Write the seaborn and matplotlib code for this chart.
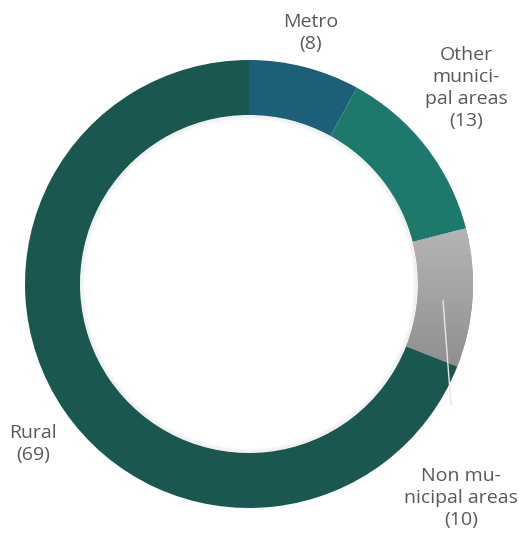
import numpy as np
import matplotlib
matplotlib.use("Agg")
import matplotlib.pyplot as plt
import seaborn as sns

categories = ["Metro", "Other municipal areas", "Non municipal areas", "Rural"]
values = [8, 13, 10, 69]
label_texts = ["Metro\n(8)", "Other\nmunici-\npal areas\n(13)", "Non mu-\nnicipal areas\n(10)", "Rural\n(69)"]
colors = ["#1b5f78", "#1e796d", "#a6a6a6", "#1a5750"]

sns.set_theme(style="white")
plt.rcParams["font.family"] = ["Open Sans", "DejaVu Sans"]

W, H = 519, 538
fig = plt.figure(figsize=(W / 100, H / 100), dpi=100)
ax = fig.add_axes([0, 0, 1, 1])

cx, cy = 249, H - 284
R = 224
ring = 55

# soft inner shadow
for i, a in enumerate(np.linspace(0.06, 0.0, 5)):
    c = plt.Circle((cx, cy), R - ring - 1 - i, fill=False, lw=1.2,
                   color=(0.3, 0.3, 0.3, a), zorder=1)
    ax.add_patch(c)

wedges, _ = ax.pie(values, colors=colors, startangle=90, counterclock=False,
                   center=(cx, cy), radius=R, frame=True,
                   wedgeprops=dict(width=ring, linewidth=0, zorder=2))

# gradient on the grey slice
g = wedges[2]
grad = np.linspace(0, 1, 256).reshape(-1, 1)
cmap = matplotlib.colors.LinearSegmentedColormap.from_list("g", ["#b4b4b4", "#8c8c8c"])
im = ax.imshow(grad, cmap=cmap, extent=(cx + 140, cx + 230, H - 380, H - 230),
               origin="upper", aspect="auto", zorder=3)
im.set_clip_path(g)

# leader line
ax.plot([443, 451], [H - 300, H - 405], color="#e6e6e6", lw=1, zorder=4)

label_pos = [(311, 33), (466, 88), (461, 498), (33, 444)]
for t, (x, y) in zip(label_texts, label_pos):
    ax.text(x, H - y, t, ha="center", va="center", fontsize=14, color="#595959",
            linespacing=1.3)

ax.set_xlim(0, W)
ax.set_ylim(0, H)
ax.set_aspect("equal")
ax.axis("off")
fig.savefig("out.png", dpi=100)
